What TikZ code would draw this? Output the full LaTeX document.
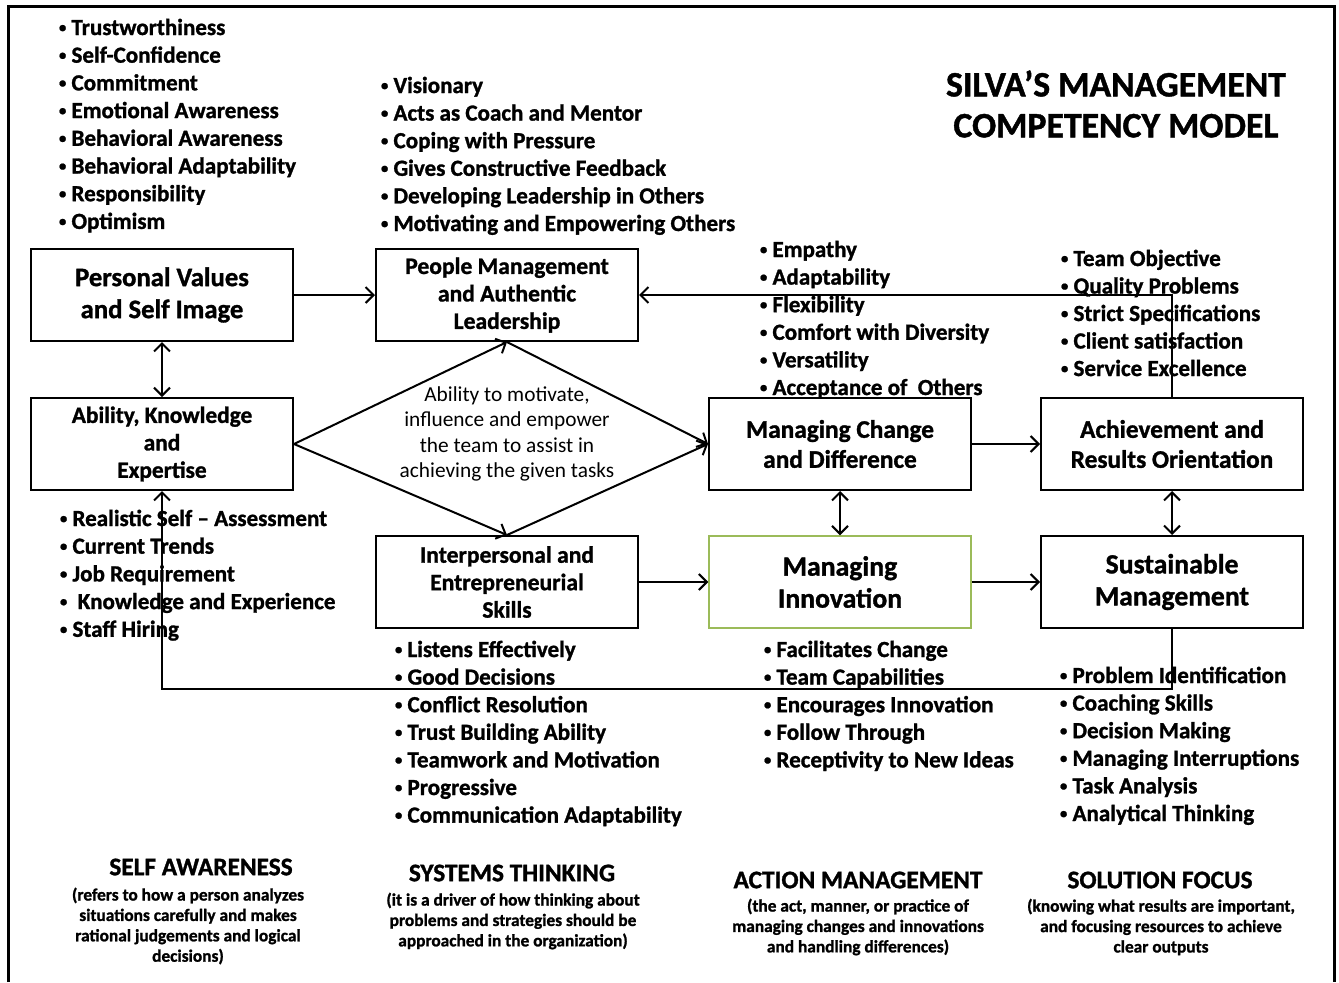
\documentclass[tikz,border=0pt]{standalone}
\usepackage{fontspec}
\setmainfont{Carlito}[BoldFeatures={FakeBold=1.2}]
\usetikzlibrary{arrows.meta}
\definecolor{leaf}{RGB}{155, 187, 89}
\newcommand\itemdot{\raisebox{0.12em}{\fontsize{11}{11}\selectfont•}\ }

\begin{document}
\begin{tikzpicture}[x=0.75pt, y=-0.75pt, line width=1.5pt,
  >={Straight Barb[length=6pt, width=12pt]},
  box/.style={draw, line width=1.5pt, minimum width=196.5pt, minimum height=69pt,
              align=center, inner sep=2pt},
  item/.style={anchor=base west, inner sep=0pt,
               font=\fontsize{17.3}{20.7}\selectfont\bfseries},
  head/.style={inner sep=0pt, font=\fontsize{19}{23}\selectfont\bfseries},
  note/.style={inner sep=0pt, align=center,
               font=\fontsize{13}{15.3}\selectfont\bfseries},
]
  \useasboundingbox (0, 0) rectangle (1339, 982);

  % frame
  \draw[line width=2.25pt] (8, 982) -- (8, 6) -- (1334, 6) -- (1334, 982);

  % title
  \node[align=center, inner sep=0pt, font=\fontsize{26.8}{30.7}\selectfont\bfseries]
    (title) at (1116, 104) {SILVA’S MANAGEMENT\\COMPETENCY MODEL};

  % boxes
  \node[box, font=\fontsize{20}{24}\selectfont\bfseries] (personal) at (162, 295)
    {Personal Values\\and Self Image};
  \node[box, font=\fontsize{17.7}{20.6}\selectfont\bfseries] (people) at (507, 295)
    {People Management\\and Authentic\\Leadership};
  \node[box, font=\fontsize{17.5}{20.6}\selectfont\bfseries] (ability) at (162, 444)
    {Ability, Knowledge\\and\\Expertise};
  \node[box, font=\fontsize{19}{22.5}\selectfont\bfseries] (change) at (840, 444)
    {Managing Change\\and Difference};
  \node[box, font=\fontsize{19}{22.5}\selectfont\bfseries] (achieve) at (1172, 444)
    {Achievement and\\Results Orientation};
  \node[box, font=\fontsize{17.7}{20.6}\selectfont\bfseries] (inter) at (507, 582)
    {Interpersonal and\\Entrepreneurial\\Skills};
  \node[box, draw=leaf, line width=1.1pt, font=\fontsize{20.8}{24}\selectfont\bfseries]
    (innov) at (840, 582) {Managing\\Innovation};
  \node[box, font=\fontsize{20.8}{24}\selectfont\bfseries] (sustain) at (1172, 582)
    {Sustainable\\Management};

  % diamond
  \node[align=center, inner sep=0pt, font=\fontsize{16}{19}\selectfont] (ability2)
    at (507, 434) {Ability to motivate,\\influence and empower\\the team to assist in\\achieving the given tasks};
  \draw[->] (ability.east) -- (people.south);
  \draw[->] (ability.east) -- (inter.north);
  \draw[->] (people.south) -- (change.west);
  \draw[->] (inter.north) -- (change.west);

  % arrows
  \draw[->] (personal) -- (people);
  \draw[<->] (personal) -- (ability);
  \draw[->] (change) -- (achieve);
  \draw[<->] (change) -- (innov);
  \draw[<->] (achieve) -- (sustain);
  \draw[->] (inter) -- (innov);
  \draw[->] (innov) -- (sustain);
  \draw[->] (achieve.north) |- (people.east);
  \draw[->] (sustain.south) -- ++(0, 60) -| (ability.south);

  % bullet lists
  \foreach \t [count=\i] in {Trustworthiness, Self-Confidence, Commitment,
      Emotional Awareness, Behavioral Awareness, Behavioral Adaptability,
      Responsibility, Optimism}
    \node[item] (trait\i) at (58, {35 + 27.7*(\i-1)}) {\itemdot\t};
  \foreach \t [count=\i] in {Visionary, Acts as Coach and Mentor,
      Coping with Pressure, Gives Constructive Feedback,
      Developing Leadership in Others, Motivating and Empowering Others}
    \node[item] (lead\i) at (380, {93 + 27.6*(\i-1)}) {\itemdot\t};
  \foreach \t [count=\i] in {Empathy, Adaptability, Flexibility,
      Comfort with Diversity, Versatility, Acceptance of \ Others}
    \node[item] (flex\i) at (759, {257 + 27.6*(\i-1)}) {\itemdot\t};
  \foreach \t [count=\i] in {Team Objective, Quality Problems,
      Strict Specifications, Client satisfaction, Service Excellence}
    \node[item] (goal\i) at (1060, {266 + 27.5*(\i-1)}) {\itemdot\t};
  \foreach \t [count=\i] in {Realistic Self – Assessment, Current Trends,
      Job Requirement, \ Knowledge and Experience, Staff Hiring}
    \node[item] (skill\i) at (59, {526 + 27.7*(\i-1)}) {\itemdot\t};
  \foreach \t [count=\i] in {Listens Effectively, Good Decisions,
      Conflict Resolution, Trust Building Ability, Teamwork and Motivation,
      Progressive, Communication Adaptability}
    \node[item] (social\i) at (394, {657 + 27.6*(\i-1)}) {\itemdot\t};
  \foreach \t [count=\i] in {Facilitates Change, Team Capabilities,
      Encourages Innovation, Follow Through, Receptivity to New Ideas}
    \node[item] (idea\i) at (763, {657 + 27.6*(\i-1)}) {\itemdot\t};
  \foreach \t [count=\i] in {Problem Identification, Coaching Skills,
      Decision Making, Managing Interruptions, Task Analysis,
      Analytical Thinking}
    \node[item] (solve\i) at (1059, {683 + 27.6*(\i-1)}) {\itemdot\t};

  % bottom headings
  \node[head] (aware) at (201, 867) {SELF AWARENESS};
  \node[note] (awarenote) at (188, 926)
    {(refers to how a person analyzes\\situations carefully and makes\\rational judgements and logical\\decisions)};
  \node[head] (systems) at (512, 873) {SYSTEMS THINKING};
  \node[note] (systemsnote) at (513, 921)
    {(it is a driver of how thinking about\\problems and strategies should be\\approached in the organization)};
  \node[head] (action) at (858, 880) {ACTION MANAGEMENT};
  \node[note] (actionnote) at (858, 927)
    {(the act, manner, or practice of\\managing changes and innovations\\and handling differences)};
  \node[head] (focus) at (1160, 880) {SOLUTION FOCUS};
  \node[note] (focusnote) at (1161, 927)
    {(knowing what results are important,\\and focusing resources to achieve\\clear outputs};
\end{tikzpicture}
\end{document}
